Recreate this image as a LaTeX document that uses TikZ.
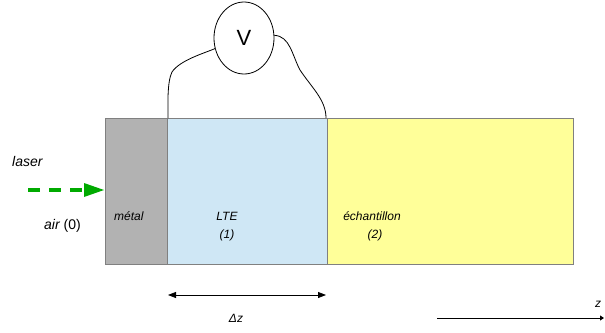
\documentclass[tikz,border=0pt]{standalone}
\usepackage{fontspec}
\setmainfont{Liberation Sans}
\usetikzlibrary{arrows.meta,shapes.geometric}
\definecolor{metalgray}{RGB}{178,178,178}
\definecolor{lteblue}{RGB}{207,231,245}
\definecolor{sampyellow}{RGB}{255,255,153}
\definecolor{bordergray}{RGB}{128,128,128}
\definecolor{lasergreen}{RGB}{0,170,0}
\begin{document}
\begin{tikzpicture}[x=1pt,y=-1pt,
  zone/.style={draw=bordergray,line width=1pt},
  lbl/.style={font=\fontsize{12}{14}\selectfont\itshape,inner sep=0pt},
  biglbl/.style={font=\fontsize{14}{16}\selectfont,inner sep=0pt},
  wire/.style={line width=0.8pt}]
\useasboundingbox (0,0) rectangle (605,332);
\fill[white] (0,0) rectangle (605,332);
\filldraw[zone,fill=metalgray] (105,118) rectangle (167,264);
\filldraw[zone,fill=lteblue] (167,118) rectangle (327,264);
\filldraw[zone,fill=sampyellow] (327,118) rectangle (573,264);
\coordinate (mL) at (168,118);
\coordinate (mR) at (326,118);
\node[draw,ellipse,minimum width=60pt,minimum height=72pt,inner sep=0pt,line width=0.8pt,font=\fontsize{22}{24}\selectfont] (V) at (244,38) {V};
\draw[wire] (V.200) .. controls (205,53) and (180,60) .. (172,72) .. controls (167,82) and (168,105) .. (mL);
\draw[wire] (V.5) .. controls (290,36) and (292,55) .. (300,70) .. controls (312,88) and (326,100) .. (mR);
\coordinate (l0) at (28,190);
\coordinate (l1) at (104,190);
\draw[lasergreen,line width=4pt,dash pattern=on 12pt off 9pt] (l0) -- (86,190);
\fill[lasergreen] (84,183) -- (l1) -- (84,197) -- cycle;
\node[biglbl,anchor=west,font=\fontsize{14}{16}\selectfont\itshape] (laser) at (12,161) {laser};
\node[biglbl,anchor=west] (air) at (44,226) {\itshape air\upshape{} (0)};
\node[lbl,anchor=west] (metal) at (114,216) {métal};
\node[lbl] (lte) at (227,216) {LTE};
\node[lbl] (one) at (227,235) {(1)};
\node[lbl] (ech) at (372,216) {échantillon};
\node[lbl] (two) at (375,235) {(2)};
\coordinate (d0) at (168,295);
\coordinate (d1) at (326,295);
\draw[line width=0.8pt,{Triangle[length=8pt,width=6pt]}-{Triangle[length=8pt,width=6pt]}] (d0) -- (d1);
\node[lbl] (dz) at (236,318) {Δz};
\coordinate (z0) at (437,318);
\coordinate (z1) at (604,318);
\draw[line width=0.8pt,-{Triangle[length=4pt,width=5pt]}] (z0) -- (z1);
\node[lbl] (zl) at (598,304) {z};
\end{tikzpicture}
\end{document}
